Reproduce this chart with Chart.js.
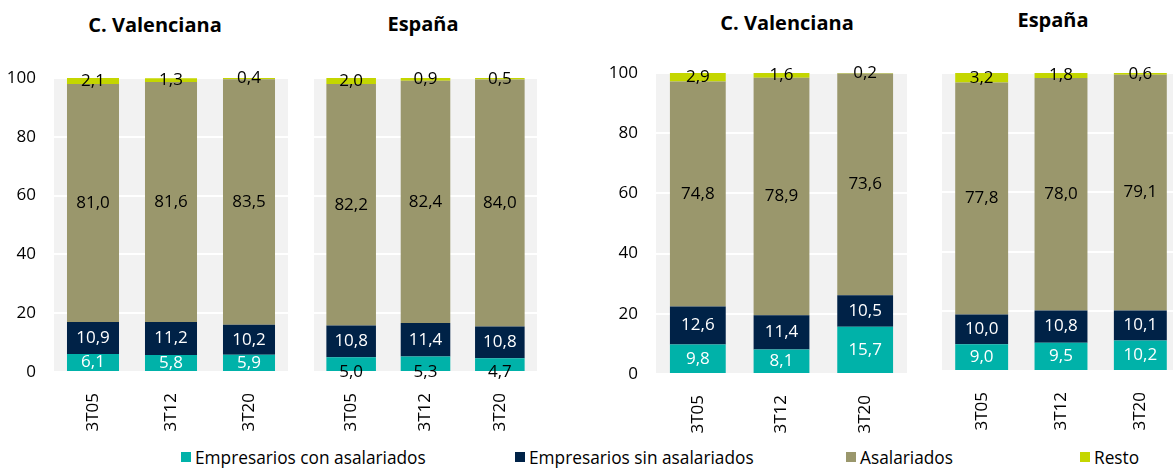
<!DOCTYPE html>
<html>
<head>
<meta charset="utf-8">
<script src="https://cdn.jsdelivr.net/npm/chart.js@4"></script>
<style>
  html, body { margin: 0; padding: 0; background: #fff; overflow: hidden; }
  body { width: 1173px; height: 468px; position: relative; font-family: "Open Sans", sans-serif; }
  canvas { position: absolute; }
  .title { position: absolute; transform: translate(-50%, -50%); font-weight: bold; font-size: 20px; color: #000; white-space: nowrap; }
  .legend-item { position: absolute; top: 446px; height: 22px; font-size: 17.3px; color: #000; display: flex; align-items: center; white-space: nowrap; }
  .legend-item .box { width: 10px; height: 10px; margin-right: 4px; }
</style>
</head>
<body>
<script>
// data
const categories = ['3T05', '3T12', '3T20'];
const seriesNames = ['Empresarios con asalariados', 'Empresarios sin asalariados', 'Asalariados', 'Resto'];
const groupTitles = ['C. Valenciana', 'España', 'C. Valenciana', 'España'];
const yTicks = [0, 20, 40, 60, 80, 100];

const leftCvCon = [6.1, 5.8, 5.9];
const leftCvSin = [10.9, 11.2, 10.2];
const leftCvAsal = [81.0, 81.6, 83.5];
const leftCvResto = [2.1, 1.3, 0.4];

const leftEsCon = [5.0, 5.3, 4.7];
const leftEsSin = [10.8, 11.4, 10.8];
const leftEsAsal = [82.2, 82.4, 84.0];
const leftEsResto = [2.0, 0.9, 0.5];

const rightCvCon = [9.8, 8.1, 15.7];
const rightCvSin = [12.6, 11.4, 10.5];
const rightCvAsal = [74.8, 78.9, 73.6];
const rightCvResto = [2.9, 1.6, 0.2];

const rightEsCon = [9.0, 9.5, 10.2];
const rightEsSin = [10.0, 10.8, 10.1];
const rightEsAsal = [77.8, 78.0, 79.1];
const rightEsResto = [3.2, 1.8, 0.6];

const colors = ['#00b2a9', '#002247', '#9a976c', '#c4d600'];
const labelColors = ['#fff', '#fff', '#000', '#000'];

// layout: plot area of each panel
const panels = [
  { series: [leftCvCon, leftCvSin, leftCvAsal, leftCvResto], left: 54, top: 78, w: 234, h: 294, yAxis: true, yw: 54, titleX: 155, titleY: 24 },
  { series: [leftEsCon, leftEsSin, leftEsAsal, leftEsResto], left: 314, top: 78, w: 223, h: 294, yAxis: false, yw: 0, titleX: 423, titleY: 23, darkBase: true },
  { series: [rightCvCon, rightCvSin, rightCvAsal, rightCvResto], left: 656, top: 73, w: 251, h: 301, yAxis: true, yw: 60, titleX: 787, titleY: 22 },
  { series: [rightEsCon, rightEsSin, rightEsAsal, rightEsResto], left: 942, top: 73, w: 238, h: 298, yAxis: false, yw: 0, titleX: 1053, titleY: 19 }
];
const legendLefts = [181, 515, 846, 1080];

const PAD_TOP = 16;
const X_H = 70;

const plotBg = {
  id: 'plotBg',
  beforeDraw(chart) {
    const { ctx, chartArea: a } = chart;
    ctx.save();
    ctx.fillStyle = '#f2f2f2';
    ctx.fillRect(a.left, a.top, a.right - a.left, a.bottom - a.top);
    ctx.restore();
  }
};

const barLabels = {
  id: 'barLabels',
  afterDatasetsDraw(chart) {
    const ctx = chart.ctx;
    ctx.save();
    ctx.font = '17px "Open Sans"';
    ctx.textAlign = 'center';
    ctx.textBaseline = 'middle';
    chart.data.datasets.forEach((ds, i) => {
      const meta = chart.getDatasetMeta(i);
      meta.data.forEach((bar, j) => {
        const p = bar.getProps(['x', 'y', 'base'], true);
        ctx.fillStyle = ds.labelColor;
        ctx.fillText(ds.data[j].toFixed(1).replace('.', ','), p.x, (p.y + p.base) / 2 + (ds.labelShift || 0));
      });
    });
    ctx.restore();
  }
};

panels.forEach((p, idx) => {
  const canvas = document.createElement('canvas');
  canvas.width = p.w + p.yw;
  canvas.height = PAD_TOP + p.h + X_H;
  canvas.style.left = (p.left - p.yw) + 'px';
  canvas.style.top = (p.top - PAD_TOP) + 'px';
  document.body.appendChild(canvas);

  const title = document.createElement('div');
  title.className = 'title';
  title.textContent = groupTitles[idx];
  title.style.left = p.titleX + 'px';
  title.style.top = p.titleY + 'px';
  document.body.appendChild(title);

  new Chart(canvas, {
    type: 'bar',
    data: {
      labels: categories,
      datasets: p.series.map((vals, i) => ({
        label: seriesNames[i],
        data: vals,
        backgroundColor: colors[i],
        borderWidth: 0,
        barPercentage: 0.667,
        categoryPercentage: 1,
        labelColor: (p.darkBase && i === 0) ? '#000' : labelColors[i],
        labelShift: (p.darkBase && i === 0) ? 8 : 0
      }))
    },
    options: {
      responsive: false,
      animation: false,
      layout: { padding: { top: PAD_TOP, left: 0, right: 0, bottom: 0 } },
      plugins: { legend: { display: false }, tooltip: { enabled: false }, title: { display: false } },
      scales: {
        x: {
          stacked: true,
          grid: { display: false },
          border: { display: false },
          ticks: { minRotation: 90, maxRotation: 90, padding: 13, color: '#000', font: { family: 'Open Sans', size: 17 } },
          afterFit: s => { s.height = X_H; }
        },
        y: {
          stacked: true,
          min: 0,
          max: 100,
          afterBuildTicks: s => { s.ticks = yTicks.map(v => ({ value: v })); },
          grid: { color: '#ffffff', lineWidth: 2, drawTicks: true, tickLength: 18, tickColor: 'rgba(0,0,0,0)' },
          border: { display: false },
          ticks: { display: p.yAxis, padding: 0, color: '#000', font: { family: 'Open Sans', size: 17 } },
          afterFit: s => { s.width = p.yw; }
        }
      }
    },
    plugins: [plotBg, barLabels]
  });
});

// legend
seriesNames.forEach((name, i) => {
  const item = document.createElement('div');
  item.className = 'legend-item';
  item.style.left = legendLefts[i] + 'px';
  const box = document.createElement('span');
  box.className = 'box';
  box.style.background = colors[i];
  const txt = document.createElement('span');
  txt.textContent = name;
  item.appendChild(box);
  item.appendChild(txt);
  document.body.appendChild(item);
});
</script>
</body>
</html>
